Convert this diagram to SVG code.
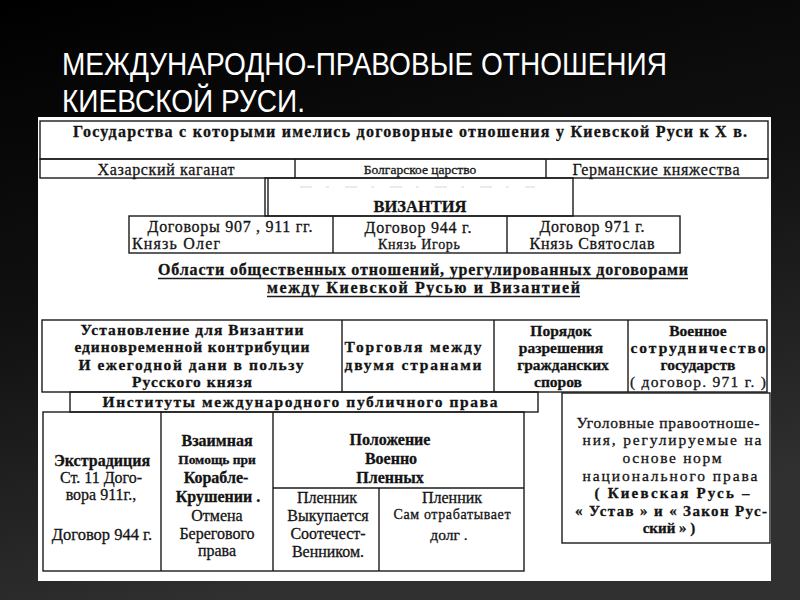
<svg xmlns="http://www.w3.org/2000/svg" width="800" height="600" viewBox="0 0 800 600">
<defs>
<linearGradient id="bg" x1="0" y1="0" x2="0.3" y2="1">
<stop offset="0" stop-color="#000"/>
<stop offset="0.5" stop-color="#111"/>
<stop offset="1" stop-color="#303030"/>
</linearGradient>
<style>
.box{fill:none;stroke:#1a1a1a;stroke-width:1.4}
.ln{stroke:#1a1a1a;stroke-width:1.4;fill:none}
.t{font-family:"Liberation Serif","DejaVu Serif",serif;fill:#141414;stroke:#141414;stroke-width:0.3;text-anchor:middle}
.b{font-weight:bold}
.ttl{font-family:"Liberation Sans","DejaVu Sans",sans-serif;fill:#fff;font-size:31px}
</style>
</defs>
<rect width="800" height="600" fill="url(#bg)"/>
<g id="title">
<text class="ttl" x="62" y="75" textLength="605" lengthAdjust="spacingAndGlyphs">МЕЖДУНАРОДНО-ПРАВОВЫЕ ОТНОШЕНИЯ</text>
<text class="ttl" x="62" y="112" textLength="243" lengthAdjust="spacingAndGlyphs">КИЕВСКОЙ РУСИ.</text>
</g>
<rect x="38" y="117" width="733" height="464" fill="#fff"/>

<g id="header">
<rect class="box" x="40" y="121" width="728" height="38"/>
<text class="t b" x="410" y="137" font-size="16" textLength="674">Государства с которыми имелись договорные отношения у Киевской Руси к X в.</text>
</g>
<g id="states">
<rect class="box" x="40" y="159" width="728" height="19"/>
<line class="ln" x1="295" y1="159" x2="295" y2="178"/>
<line class="ln" x1="546" y1="159" x2="546" y2="178"/>
<g id="khazar"><text class="t" x="166" y="175" font-size="16" textLength="137">Хазарский каганат</text></g>
<g id="bulgar"><text class="t" x="420" y="174" font-size="13.5">Болгарское царство</text></g>
<g id="german"><text class="t" x="656" y="175" font-size="16" textLength="167">Германские княжества</text></g>
</g>
<g id="byzantium">
<rect class="box" x="265" y="178" width="308" height="38"/>
<line class="ln" x1="268" y1="178" x2="268" y2="216"/>
<line x1="300" y1="187" x2="535" y2="187" stroke="#ccc" stroke-width="0.8" stroke-dasharray="12 14 3 16"/>
<text class="t b" x="420" y="212" font-size="16.5">ВИЗАНТИЯ</text>
</g>
<g id="treaties">
<rect class="box" x="129" y="216" width="551" height="37"/>
<line class="ln" x1="333" y1="216" x2="333" y2="253"/>
<line class="ln" x1="507" y1="216" x2="507" y2="253"/>
<g id="oleg">
<text class="t" x="230" y="232" font-size="16" textLength="165">Договоры 907 , 911 гг.</text>
<text class="t" x="176" y="249" font-size="16" textLength="88">Князь Олег</text>
</g>
<g id="igor">
<text class="t" x="418" y="233" font-size="16" textLength="107">Договор 944 г.</text>
<text class="t" x="419" y="249" font-size="14" textLength="82">Князь Игорь</text>
</g>
<g id="svyatoslav">
<text class="t" x="592" y="232" font-size="16" textLength="105">Договор 971 г.</text>
<text class="t" x="592" y="249" font-size="16" textLength="125">Князь Святослав</text>
</g>
</g>
<g id="areas">
<text class="t b" x="423" y="275" font-size="16" textLength="530">Области общественных отношений, урегулированных договорами</text>
<text class="t b" x="423.5" y="293" font-size="16" textLength="313">между Киевской Русью и Византией</text>
<line class="ln" x1="158" y1="278.5" x2="688" y2="278.5"/>
<line class="ln" x1="267" y1="296.5" x2="580" y2="296.5"/>
</g>
<g id="areas-row">
<rect class="box" x="42" y="320" width="725" height="72"/>
<line class="ln" x1="342" y1="320" x2="342" y2="392"/>
<line class="ln" x1="494" y1="320" x2="494" y2="392"/>
<line class="ln" x1="628" y1="320" x2="628" y2="392"/>
<g id="tribute">
<text class="t b" x="192" y="335" font-size="15.5" textLength="223">Установление для Византии</text>
<text class="t b" x="192" y="352" font-size="15.5" textLength="235">единовременной контрибуции</text>
<text class="t b" x="191" y="370" font-size="15.5" textLength="225">И ежегодной дани в пользу</text>
<text class="t b" x="192" y="387" font-size="15.5" textLength="120">Русского князя</text>
</g>
<g id="trade">
<text class="t b" x="413" y="352" font-size="15.5" textLength="137">Торговля между</text>
<text class="t b" x="413" y="370" font-size="15.5" textLength="137">двумя странами</text>
</g>
<g id="disputes">
<text class="t b" x="561" y="336" font-size="15.5">Порядок</text>
<text class="t b" x="561" y="353" font-size="15.5">разрешения</text>
<text class="t b" x="563" y="370" font-size="15.5">гражданских</text>
<text class="t b" x="558" y="387" font-size="15.5">споров</text>
</g>
<g id="military">
<text class="t b" x="698" y="336" font-size="15.5">Военное</text>
<text class="t b" x="698" y="353" font-size="15.5" textLength="135">сотрудничество</text>
<text class="t b" x="698" y="370" font-size="15.5">государств</text>
<text class="t" x="698" y="387" font-size="15.5" textLength="136">( договор. 971 г. )</text>
</g>
</g>
<g id="institutes">
<rect class="box" x="70" y="392" width="468" height="20"/>
<text class="t b" x="300" y="407" font-size="15.5" textLength="395">Институты международного публичного права</text>
</g>
<g id="institutes-row">
<rect class="box" x="43" y="412" width="481" height="159"/>
<line class="ln" x1="161" y1="412" x2="161" y2="571"/>
<line class="ln" x1="273" y1="412" x2="273" y2="571"/>
<line class="ln" x1="273" y1="488" x2="524" y2="488"/>
<line class="ln" x1="379" y1="488" x2="379" y2="571"/>
<g id="extradition">
<text class="t b" x="102" y="466" font-size="16">Экстрадиция</text>
<text class="t" x="101" y="483" font-size="16">Ст. 11 Дого-</text>
<text class="t" x="101" y="500" font-size="16">вора 911г.,</text>
<text class="t" x="102" y="540" font-size="16.5">Договор 944 г.</text>
</g>
<g id="shipwreck">
<text class="t b" x="217" y="446" font-size="16">Взаимная</text>
<text class="t b" x="217" y="464" font-size="13.5">Помощь при</text>
<text class="t b" x="216" y="483" font-size="16">Корабле-</text>
<text class="t b" x="218" y="502" font-size="16">Крушении .</text>
<text class="t" x="217" y="521" font-size="16">Отмена</text>
<text class="t" x="217" y="539" font-size="16">Берегового</text>
<text class="t" x="217" y="556" font-size="16">права</text>
</g>
<g id="prisoners">
<text class="t b" x="390" y="445" font-size="16">Положение</text>
<text class="t b" x="391" y="464" font-size="16">Военно</text>
<text class="t b" x="390" y="483" font-size="16">Пленных</text>
</g>
<g id="ransom">
<text class="t" x="327" y="503" font-size="16">Пленник</text>
<text class="t" x="328" y="521" font-size="16">Выкупается</text>
<text class="t" x="328" y="539" font-size="16">Соотечест-</text>
<text class="t" x="328" y="557" font-size="16">Венником.</text>
</g>
<g id="work-off">
<text class="t" x="452" y="503" font-size="16">Пленник</text>
<text class="t" x="452" y="519" font-size="14" textLength="117">Сам отрабатывает</text>
<text class="t" x="449" y="540" font-size="15.5">долг .</text>
</g>
</g>
<g id="criminal">
<rect class="box" x="562" y="393" width="208" height="150"/>
<text class="t" x="668" y="428" font-size="15.5" textLength="183">Уголовные правоотноше-</text>
<text class="t" x="672" y="445" font-size="15.5" textLength="179">ния, регулируемые на</text>
<text class="t" x="672" y="463" font-size="15.5" textLength="99">основе норм</text>
<text class="t" x="670" y="481" font-size="15.5" textLength="175">национального права</text>
<text class="t b" x="672" y="498" font-size="15" textLength="155">( Киевская Русь –</text>
<text class="t b" x="671" y="516" font-size="15" textLength="192">« Устав » и « Закон Рус-</text>
<text class="t b" x="669" y="533" font-size="15">ский » )</text>
</g>
</svg>
